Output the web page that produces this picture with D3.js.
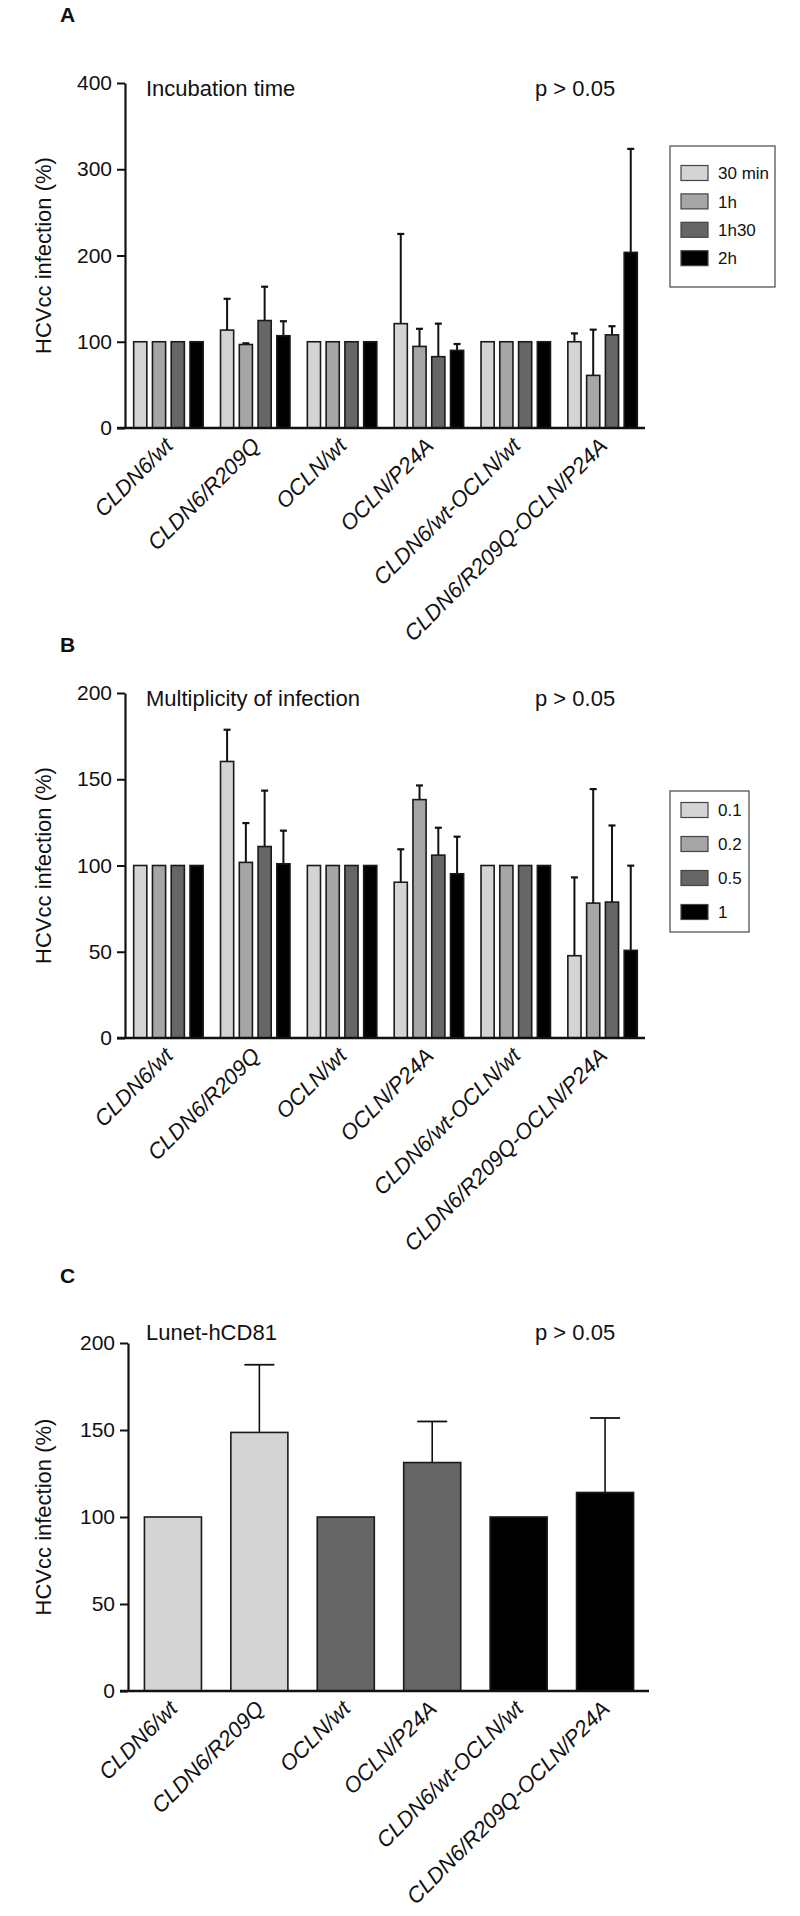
<!DOCTYPE html>
<html><head><meta charset="utf-8">
<script src="https://cdn.jsdelivr.net/npm/d3@7"></script>
<style>
body{margin:0;background:#fff;}
svg text{font-family:"Liberation Sans",Arial,sans-serif;fill:#111;}
</style></head>
<body><svg id="c" width="800" height="1916"></svg>
<script>
// ---------- DATA ----------
const categories = ["CLDN6/wt","CLDN6/R209Q","OCLN/wt","OCLN/P24A","CLDN6/wt-OCLN/wt","CLDN6/R209Q-OCLN/P24A"];

const seriesA = ["30 min","1h","1h30","2h"];
const valuesA = [
  [100, 113.5, 100, 121, 100, 100],
  [100, 96.8, 100, 94.6, 100, 61],
  [100, 124.6, 100, 82.7, 100, 108],
  [100, 107, 100, 90, 100, 203.6]
];
const errorsA = [
  [0, 36.3, 0, 104, 0, 9.7],
  [0, 1.4, 0, 20.4, 0, 53],
  [0, 39.2, 0, 38.3, 0, 10],
  [0, 16.8, 0, 7.4, 0, 120]
];
const ticksA = [0,100,200,300,400];

const seriesB = ["0.1","0.2","0.5","1"];
const valuesB = [
  [100, 160.3, 100, 90.3, 100, 47.7],
  [100, 101.8, 100, 138.2, 100, 78.2],
  [100, 111, 100, 106, 100, 78.8],
  [100, 101, 100, 95.2, 100, 50.8]
];
const errorsB = [
  [0, 18.4, 0, 19.1, 0, 45.4],
  [0, 22.8, 0, 8.2, 0, 66.1],
  [0, 32.4, 0, 15.9, 0, 44.4],
  [0, 19.2, 0, 21.5, 0, 49.1]
];
const ticksB = [0,50,100,150,200];

const valuesC = [100, 148.6, 100, 131.3, 100, 114.1];
const errorsC = [0, 38.9, 0, 23.6, 0, 42.8];
const colorsC = ["#d4d4d4","#d4d4d4","#666666","#666666","#000000","#000000"];
const ticksC = [0,50,100,150,200];

const seriesColors = ["#d4d4d4","#a6a6a6","#666666","#000000"];
const yLabel = "HCVcc infection (%)";

// ---------- DRAW ----------
const svg = d3.select("#c");

function drawAxes(g, y, ticks, axisX, xStart, xEnd, bottom) {
  const ya = d3.axisLeft(y).tickValues(ticks).tickSize(8).tickPadding(5).tickSizeOuter(0);
  const gy = g.append("g").attr("transform", `translate(${axisX},0)`).call(ya);
  gy.select(".domain").attr("stroke","#111").attr("stroke-width",2.2);
  gy.selectAll(".tick line").attr("stroke","#111").attr("stroke-width",2);
  gy.selectAll(".tick text").attr("font-size",21).attr("fill","#111")
    .style("font-family","'Liberation Sans',Arial,sans-serif");
  g.append("line").attr("x1",xStart).attr("x2",xEnd).attr("y1",bottom).attr("y2",bottom)
    .attr("stroke","#111").attr("stroke-width",2.4);
}

function catLabels(g, x, bottom) {
  g.selectAll("text.cat").data(categories).enter().append("text")
    .attr("class","cat")
    .attr("transform", d => `translate(${x(d)+x.bandwidth()/2+6},${bottom+19}) rotate(-45)`)
    .attr("text-anchor","end")
    .attr("font-size",22).attr("font-style","italic")
    .text(d => d);
}

function yTitle(g, top, bottom) {
  g.append("text").attr("transform",`translate(51,${(top+bottom)/2}) rotate(-90)`)
    .attr("text-anchor","middle").attr("font-size",22).text(yLabel);
}

function groupedPanel(o) {
  const g = svg.append("g");
  const y = d3.scaleLinear().domain(o.domain).range([o.bottom, o.top]);
  const x0 = d3.scaleBand().domain(categories).range([125, 646]).paddingInner(0.2).paddingOuter(0.1);
  const x1 = d3.scaleBand().domain(o.series).range([0, x0.bandwidth()]).paddingInner(0.3);
  o.series.forEach((s, si) => {
    const sg = g.append("g");
    const recs = categories.map((c, ci) => ({c, v:o.values[si][ci], e:o.errors[si][ci]}));
    recs.filter(r => r.e > 0).forEach(r => {
      const cx = x0(r.c) + x1(s) + x1.bandwidth()/2;
      sg.append("line").attr("x1",cx).attr("x2",cx).attr("y1",y(r.v)).attr("y2",y(r.v+r.e))
        .attr("stroke","#111").attr("stroke-width",2);
      sg.append("line").attr("x1",cx-3.5).attr("x2",cx+3.5).attr("y1",y(r.v+r.e)).attr("y2",y(r.v+r.e))
        .attr("stroke","#111").attr("stroke-width",2.2);
    });
    sg.selectAll("rect").data(recs).enter().append("rect")
      .attr("x", r => x0(r.c) + x1(s))
      .attr("width", x1.bandwidth())
      .attr("y", r => y(r.v))
      .attr("height", r => y(0) - y(r.v))
      .attr("fill", seriesColors[si]).attr("stroke","#1a1a1a").attr("stroke-width",1.6);
  });
  drawAxes(g, y, o.ticks, 125, 117, 645, o.bottom);
  catLabels(g, x0, o.bottom);
  yTitle(g, o.top, o.bottom);
  g.append("text").attr("x",60).attr("y",o.letterY).attr("font-size",21).attr("font-weight","bold").text(o.letter);
  g.append("text").attr("x",146).attr("y",o.top+13).attr("font-size",22).text(o.title);
  g.append("text").attr("x",535).attr("y",o.top+13).attr("font-size",22).text("p > 0.05");
  const L = o.legend;
  g.append("rect").attr("x",L.x).attr("y",L.y).attr("width",L.w).attr("height",L.h)
    .attr("fill","#fff").attr("stroke","#555").attr("stroke-width",1.3);
  o.series.forEach((s, si) => {
    const cy = L.row0 + si*L.step;
    g.append("rect").attr("x",L.x+11).attr("y",cy-7.5).attr("width",27).attr("height",15)
      .attr("fill",seriesColors[si]).attr("stroke","#444").attr("stroke-width",1.2);
    g.append("text").attr("x",L.x+48).attr("y",cy).attr("dy","0.36em").attr("font-size",17).text(s);
  });
}

groupedPanel({letter:"A", letterY:22, title:"Incubation time", series:seriesA, values:valuesA, errors:errorsA,
  ticks:ticksA, domain:[0,400], top:83, bottom:428,
  legend:{x:670, y:146, w:105, h:141, row0:173, step:28.4}});

groupedPanel({letter:"B", letterY:652, title:"Multiplicity of infection", series:seriesB, values:valuesB, errors:errorsB,
  ticks:ticksB, domain:[0,200], top:693, bottom:1038,
  legend:{x:670, y:791, w:79, h:141, row0:810, step:34}});

// Panel C
(function(){
  const g = svg.append("g");
  const top = 1343, bottom = 1691;
  const y = d3.scaleLinear().domain([0,200]).range([bottom, top]);
  const x = d3.scaleBand().domain(categories).range([128, 650]).paddingInner(0.34).paddingOuter(0.19);
  const recs = categories.map((c,i) => ({c, v:valuesC[i], e:errorsC[i], col:colorsC[i]}));
  recs.filter(r => r.e > 0).forEach(r => {
    const cx = x(r.c) + x.bandwidth()/2;
    g.append("line").attr("x1",cx).attr("x2",cx).attr("y1",y(r.v)).attr("y2",y(r.v+r.e))
      .attr("stroke","#111").attr("stroke-width",1.6);
    g.append("line").attr("x1",cx-15).attr("x2",cx+15).attr("y1",y(r.v+r.e)).attr("y2",y(r.v+r.e))
      .attr("stroke","#111").attr("stroke-width",1.8);
  });
  g.selectAll("rect").data(recs).enter().append("rect")
    .attr("x", r => x(r.c)).attr("width", x.bandwidth())
    .attr("y", r => y(r.v)).attr("height", r => y(0)-y(r.v))
    .attr("fill", r => r.col).attr("stroke","#1a1a1a").attr("stroke-width",1.6);
  drawAxes(g, y, ticksC, 128, 120, 649, bottom);
  catLabels(g, x, bottom);
  yTitle(g, top, bottom);
  g.append("text").attr("x",60).attr("y",1283).attr("font-size",21).attr("font-weight","bold").text("C");
  g.append("text").attr("x",146).attr("y",1340).attr("font-size",22).text("Lunet-hCD81");
  g.append("text").attr("x",535).attr("y",1340).attr("font-size",22).text("p > 0.05");
})();
</script>
</body></html>
